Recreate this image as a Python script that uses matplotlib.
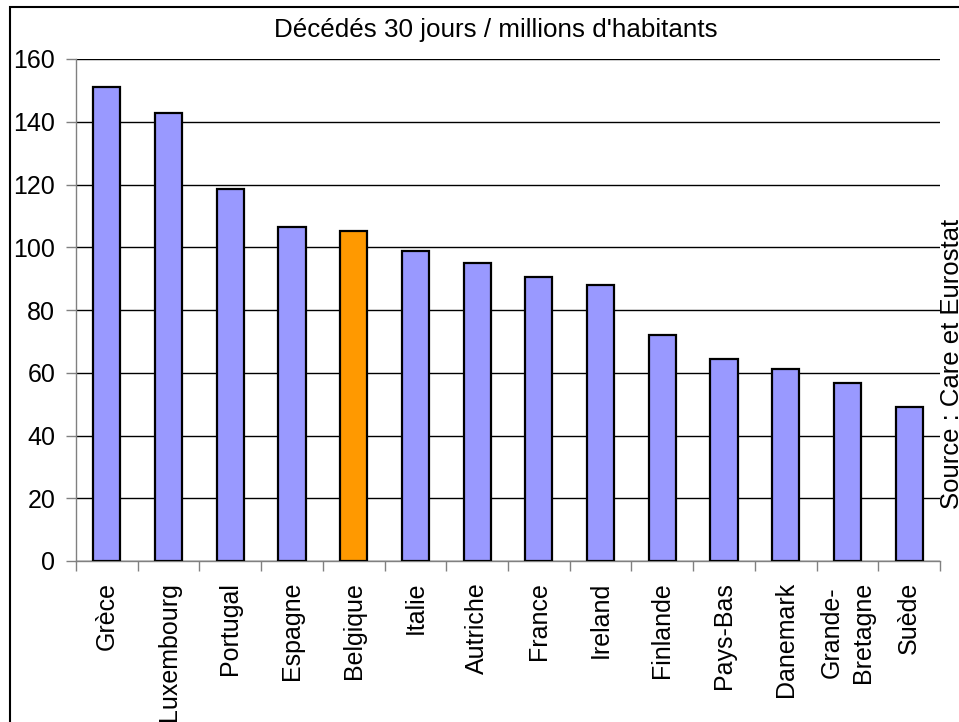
import matplotlib.pyplot as plt
from matplotlib.patches import Rectangle
import numpy as np

plt.rcParams['font.family'] = ['Liberation Sans', 'DejaVu Sans']

# Données
pays = ['Grèce', 'Luxembourg', 'Portugal', 'Espagne', 'Belgique', 'Italie',
        'Autriche', 'France', 'Ireland', 'Finlande', 'Pays-Bas', 'Danemark',
        'Grande-\nBretagne', 'Suède']
deces = [151.1, 142.7, 118.6, 106.5, 105.2, 98.8, 95.1, 90.5, 88.0, 72.0,
         64.3, 61.1, 56.6, 49.0]
couleurs = ['#FF9900' if p == 'Belgique' else '#9999FF' for p in pays]

fig = plt.figure(figsize=(9.59, 7.22), dpi=100)
ax = fig.add_axes([76 / 959, 1 - 561 / 722, (940 - 76) / 959, (561 - 59) / 722])

x = np.arange(len(pays))
ax.bar(x, deces, width=0.44, color=couleurs, edgecolor='black', linewidth=1.6, zorder=3)

ax.set_xlim(-0.5, len(pays) - 0.5)
ax.set_ylim(0, 160)
ax.set_yticks(range(0, 161, 20))
ax.yaxis.grid(True, color='black', linewidth=1, zorder=0)

ax.set_xticks(x)
ax.set_xticklabels(pays, rotation=90, va='top', ha='center', fontsize=18,
                   linespacing=1.4)
ax.set_xticks(np.arange(-0.5, len(pays), 1), minor=True)
ax.tick_params(axis='x', which='major', length=0, pad=15)
ax.tick_params(axis='x', which='minor', length=7, color='#808080', width=1, direction='out')
ax.tick_params(axis='y', length=7, color='#808080', width=1, labelsize=18, pad=8)

for s in ['top', 'right']:
    ax.spines[s].set_visible(False)
for s in ['left', 'bottom']:
    ax.spines[s].set_color('#808080')
    ax.spines[s].set_linewidth(1)

fig.text(496 / 959, 1 - 30 / 722, "Décédés 30 jours / millions d'habitants",
         ha='center', va='center', fontsize=18.7)
fig.text(940 / 959, 1 - 364 / 722, 'Source : Care et Eurostat', rotation=90,
         ha='left', va='center', fontsize=18.5)

# cadre extérieur
fig.patches.append(Rectangle((10 / 959, -0.1), 1.2, 1.1 - 7 / 722,
                             transform=fig.transFigure, fill=False,
                             edgecolor='black', linewidth=1.5))

fig.savefig('out.png', dpi=100)
